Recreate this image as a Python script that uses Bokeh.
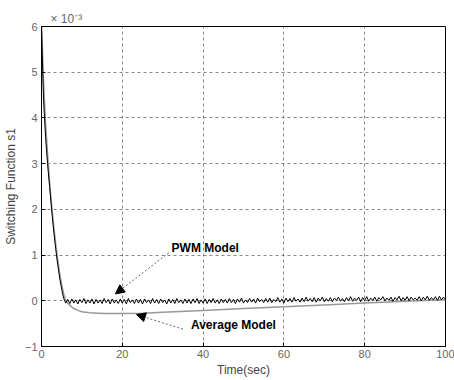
from bokeh.plotting import figure
from bokeh.models import Range1d, FixedTicker, Label, Arrow, NormalHead
from bokeh.embed import file_html
from bokeh.resources import INLINE

# ---------------- data (units of 1e-3) ----------------
pwm_t = [i * 0.5 for i in range(201)]
pwm_decay = [6.0, 4.4, 3.6, 3.0, 2.5, 2.0, 1.55, 1.15, 0.8, 0.5, 0.25, 0.05, -0.05]
pwm_ripple = [
    0.03, -0.06, 0.04, -0.05, 0.02, -0.07, 0.03, -0.04, 0.05, -0.06,
    0.02, -0.05, 0.04, -0.07, 0.03, -0.05, 0.02, -0.06, 0.05, -0.04,
    0.03, -0.07, 0.04, -0.05, 0.02, -0.06, 0.04, -0.05, 0.03, -0.07,
    0.05, -0.04, 0.02, -0.06, 0.04, -0.05, 0.03, -0.07, 0.04, -0.04,
    0.02, -0.06, 0.05, -0.05, 0.03, -0.06, 0.04, -0.04, 0.02, -0.07,
    0.04, -0.05, 0.03, -0.06, 0.05, -0.04, 0.02, -0.06, 0.04, -0.05,
    0.03, -0.06, 0.04, -0.04, 0.05, -0.06, 0.02, -0.05, 0.04, -0.06,
    0.03, -0.04, 0.05, -0.05, 0.02, -0.06, 0.04, -0.04, 0.03, -0.05,
    0.05, -0.04, 0.03, -0.06, 0.04, -0.03, 0.06, -0.05, 0.02, -0.04,
    0.05, -0.03, 0.04, -0.05, 0.06, -0.02, 0.03, -0.04, 0.05, -0.03,
    0.06, -0.04, 0.03, -0.02, 0.07, -0.03, 0.04, -0.05, 0.06, -0.02,
    0.05, -0.03, 0.07, -0.01, 0.04, -0.03, 0.06, -0.02, 0.08, -0.01,
    0.05, -0.02, 0.07, -0.03, 0.06, 0.00, 0.08, -0.02, 0.05, -0.01,
    0.07, -0.02, 0.06, 0.01, 0.08, -0.01, 0.05, -0.02, 0.07, 0.00,
    0.09, -0.01, 0.06, 0.01, 0.08, -0.02, 0.07, 0.00, 0.09, -0.01,
    0.06, 0.01, 0.08, -0.01, 0.07, 0.02, 0.09, 0.00, 0.06, 0.01,
    0.08, -0.01, 0.07, 0.02, 0.10, 0.00, 0.07, 0.01, 0.09, 0.00,
    0.08, 0.02, 0.06, 0.01, 0.09, 0.00, 0.08, 0.02, 0.10, 0.01,
    0.07, 0.02, 0.09, 0.01, 0.10, 0.02, 0.08, 0.03,
]
pwm_s1 = pwm_decay + pwm_ripple

avg_t = [0, 0.5, 1, 1.5, 2, 2.5, 3, 3.5, 4, 4.5, 5, 5.5, 6, 7, 8, 9, 10, 12, 14,
         16, 18, 20, 25, 30, 40, 50, 60, 70, 80, 90, 100]
avg_s1 = [6.0, 4.8, 3.9, 3.2, 2.6, 2.1, 1.65, 1.25, 0.9, 0.6, 0.35, 0.15, 0.0,
          -0.1, -0.17, -0.21, -0.24, -0.26, -0.27, -0.28, -0.28, -0.28, -0.27,
          -0.25, -0.21, -0.17, -0.13, -0.09, -0.05, -0.01, 0.02]

x_ticks = [0, 20, 40, 60, 80, 100]
y_ticks = [-1, 0, 1, 2, 3, 4, 5, 6]

# ---------------- figure ----------------
FONT = "Liberation Sans"
p = figure(width=454, height=380, output_backend="svg", toolbar_location=None,
           x_range=Range1d(0, 100), y_range=Range1d(-1, 6),
           min_border_left=10, min_border_right=9, min_border_top=26,
           min_border_bottom=34, title="\u00d7 10\u207b\u00b3")
p.title.text_font = FONT
p.title.text_font_size = "12px"
p.title.text_font_style = "normal"
p.title.text_color = "#666666"
p.title.offset = 9
p.title.standoff = 2
p.background_fill_color = "white"
p.border_fill_color = "white"
p.outline_line_color = "black"
p.outline_line_width = 1

for ax in (p.xaxis, p.yaxis):
    ax.major_tick_in = 4
    ax.major_tick_out = 0
    ax.minor_tick_line_color = None
    ax.axis_line_color = "black"
    ax.major_tick_line_color = "black"
    ax.major_label_text_font = FONT
    ax.major_label_text_font_size = "11px"
    ax.major_label_text_color = "#666666"
    ax.axis_label_text_font = FONT
    ax.axis_label_text_font_size = "12px"
    ax.axis_label_text_font_style = "normal"
    ax.axis_label_text_color = "#444444"

p.xaxis.ticker = FixedTicker(ticks=x_ticks)
p.yaxis.ticker = FixedTicker(ticks=y_ticks)
p.xaxis.axis_label = "Time(sec)"
p.yaxis.axis_label = "Switching Function s1"
p.xaxis.major_label_standoff = 3
p.yaxis.major_label_standoff = 4
p.xaxis.axis_label_standoff = 2
p.yaxis.axis_label_standoff = 4

p.grid.grid_line_color = "#555555"
p.grid.grid_line_dash = "3 3"
p.grid.grid_line_width = 1
p.grid.grid_line_alpha = 0.7

p.line(avg_t, avg_s1, line_color="#999999", line_width=1.5)
p.line(pwm_t, pwm_s1, line_color="black", line_width=1)

# annotations
p.add_layout(Label(x=32.2, y=1.0, text="PWM Model", text_font=FONT,
                   text_font_size="12px", text_font_style="bold",
                   text_color="black"))
p.add_layout(Label(x=37.0, y=-0.68, text="Average Model", text_font=FONT,
                   text_font_size="12px", text_font_style="bold",
                   text_color="black"))
p.add_layout(Arrow(x_start=31.5, y_start=1.05, x_end=18.3, y_end=0.15,
                   line_color="#666666", line_dash="2 2", line_width=1,
                   end=NormalHead(size=9, fill_color="black",
                                  line_color="black")))
p.add_layout(Arrow(x_start=35.0, y_start=-0.62, x_end=23.5, y_end=-0.3,
                   line_color="#666666", line_dash="2 2", line_width=1,
                   end=NormalHead(size=9, fill_color="black",
                                  line_color="black")))

open("out.html", "w").write(file_html(p, INLINE))
